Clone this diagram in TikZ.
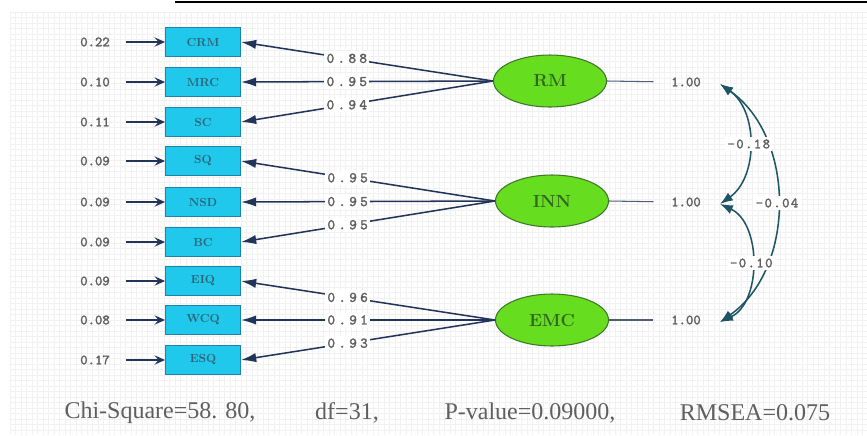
\documentclass[tikz,border=0pt]{standalone}
\usepackage{fontspec}
\usepackage{tikz}
\usetikzlibrary{arrows.meta, shapes.geometric}
\newfontfamily\valfont[FakeBold=2]{lmmono10-regular.otf}
\newfontfamily\loadfont[FakeBold=2, LetterSpace=22]{lmmono10-regular.otf}
\newfontfamily\covfont[FakeBold=2, LetterSpace=10]{lmmono10-regular.otf}
\newfontfamily\statfont{Liberation Serif}
\definecolor{obsfill}{RGB}{32,201,236}
\definecolor{obsdraw}{RGB}{30,130,170}
\definecolor{obstext}{RGB}{45,100,120}
\definecolor{latfill}{RGB}{102,221,30}
\definecolor{latdraw}{RGB}{60,120,40}
\definecolor{lattext}{RGB}{50,100,35}
\definecolor{loadblue}{RGB}{35,52,90}
\definecolor{covteal}{RGB}{30,85,100}
\definecolor{valgray}{RGB}{95,95,95}
\definecolor{fitgray}{RGB}{95,95,95}

\begin{document}
\begin{tikzpicture}[x=0.03cm, y=-0.03cm,
  obs/.style={draw=obsdraw, fill=obsfill, line width=0.8pt, minimum width=2.25cm,
    minimum height=0.87cm, inner sep=0pt, text=obstext, font=\fontsize{10}{10}\selectfont\bfseries},
  lat/.style={ellipse, draw=latdraw, fill=latfill, line width=0.9pt, minimum width=3.39cm,
    minimum height=1.56cm, inner sep=0pt, text=lattext, font=\fontsize{15}{15}\selectfont\bfseries},
  val/.style={text=valgray, inner sep=1pt, font=\fontsize{12}{12}\valfont},
  lbl/.style={text=valgray, fill=white, inner sep=2pt, font=\fontsize{12.5}{12.5}\loadfont},
  covlbl/.style={text=valgray, fill=white, inner sep=2pt, font=\fontsize{12}{12}\covfont},
  load/.style={draw=loadblue, line width=1.3pt, -{Latex[length=13pt,width=8pt]}},
  errarr/.style={draw=loadblue, line width=1.2pt, shorten <=13pt, -{Stealth[length=9pt,width=8pt,inset=3.5pt]}},
  varline/.style={draw=loadblue!80, line width=0.9pt, shorten >=14pt},
  cov/.style={draw=covteal, line width=1.3pt, {Latex[length=11pt,width=8pt]}-{Latex[length=11pt,width=8pt]}},
  fitstat/.style={text=fitgray, font=\fontsize{20.5}{20.5}\statfont},
  gridline/.style={draw=gray!11, line width=0.3pt}]
  \useasboundingbox (0,0) rectangle (867,435);
  \fill[white] (0,0) rectangle (867,435);
  \foreach \gx in {10,15.5,...,867} \draw[gridline] (\gx,12) -- (\gx,435);
  \foreach \gy in {12,17.5,...,435} \draw[gridline] (10,\gy) -- (867,\gy);
  \draw[black, line width=1.2pt] (175,2) -- (867,2);

  \foreach \n/\y/\e in {CRM/42/0.22, MRC/82/0.10, SC/122/0.11, SQ/161/0.09, NSD/202/0.09,
      BC/242/0.09, EIQ/281/0.09, WCQ/320/0.08, ESQ/360/0.17} {
    \node[obs] (\n) at (203,\y) {\n};
    \node[val] (e\n) at (95,\y) {\e};
    \draw[errarr] (e\n.east) -- (\n.west);
  }

  \node[lat] (RM) at (550,81) {RM};
  \node[lat] (INN) at (552,201) {INN};
  \node[lat] (EMC) at (552,320) {EMC};

  \foreach \f/\b/\v in {RM/CRM/0.88, RM/MRC/0.95, RM/SC/0.94, INN/SQ/0.95, INN/NSD/0.95,
      INN/BC/0.95, EMC/EIQ/0.96, EMC/WCQ/0.91, EMC/ESQ/0.93}
    \draw[load] (\f.west) -- node[lbl, pos=0.58] {\v} (\b.east);

  \foreach \f/\y in {RM/82, INN/202, EMC/320} {
    \node[val] (v\f) at (686,\y) {1.00};
    \draw[varline] (\f.east) -- (v\f.west);
    \coordinate (c\f) at (720,\y+2);
  }

  \draw[cov] (cRM) to[bend left=55] node[covlbl] {-0.04} (cEMC);
  \draw[cov] (cRM) to[bend left=55] node[covlbl] {-0.18} (cINN);
  \draw[cov] (cINN) to[bend left=65] node[covlbl] {-0.10} (cEMC);

  \node[fitstat] (chi) at (160,413) {Chi-Square=58. 80,};
  \node[fitstat] (df) at (347,413) {df=31,};
  \node[fitstat] (pval) at (530,413) {P-value=0.09000,};
  \node[fitstat] (rmsea) at (755,413) {RMSEA=0.075};
\end{tikzpicture}
\end{document}
